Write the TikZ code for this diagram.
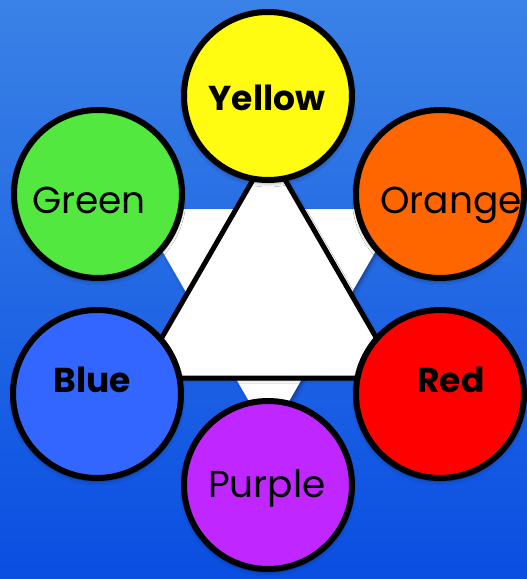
\documentclass[tikz,border=0pt]{standalone}
\usepackage{fontspec}
\setmainfont{Poppins}
\usetikzlibrary{shadows.blur}
\definecolor{bgtop}{RGB}{58,130,230}
\definecolor{bgbot}{RGB}{10,78,226}
\definecolor{cyellow}{RGB}{255,252,17}
\definecolor{cgreen}{RGB}{83,232,64}
\definecolor{corange}{RGB}{255,102,0}
\definecolor{cblue}{RGB}{51,102,255}
\definecolor{cred}{RGB}{255,0,0}
\definecolor{cpurple}{RGB}{192,38,255}
\tikzset{
  colorcircle/.style={circle, draw=black, line width=6pt, minimum size=168pt,
    inner sep=0pt, outer sep=0pt,
    blur shadow={shadow xshift=0pt, shadow yshift=-3pt, shadow blur radius=4pt, shadow opacity=45}},
  lbl/.style={anchor=base, inner sep=0pt, font=\fontsize{37.5}{40}\selectfont},
  blbl/.style={lbl, font=\fontsize{34.5}{40}\selectfont\bfseries},
  whitetri/.style={fill=white,
    blur shadow={shadow xshift=2pt, shadow yshift=-2pt, shadow blur radius=3pt, shadow opacity=35}},
}
\begin{document}
\begin{tikzpicture}[x=1pt,y=-1pt]
\shade[top color=bgtop, bottom color=bgbot] (0,0) rectangle (527,579);
\useasboundingbox (0,0) rectangle (527,579);
% inverted white triangle
\coordinate (ia) at (138,209);
\coordinate (ib) at (400,209);
\coordinate (ic) at (269,436);
\fill[whitetri] (ia) -- (ib) -- (ic) -- cycle;
% upright outlined triangle
\coordinate (ta) at (269,152);
\coordinate (tb) at (399.5,378);
\coordinate (tc) at (138.5,378);
\filldraw[whitetri, draw=black, line width=5pt, line join=round] (ta) -- (tb) -- (tc) -- cycle;
% circles
\node[colorcircle, fill=cyellow] (yellow) at (268,96) {};
\node[colorcircle, fill=cgreen] (green) at (98,194) {};
\node[colorcircle, fill=corange] (orange) at (440,194) {};
\node[colorcircle, fill=cblue] (blue) at (97,394) {};
\node[colorcircle, fill=cred] (red) at (440,394) {};
\node[colorcircle, fill=cpurple] (purple) at (268,485) {};
% labels
\node[blbl] (yellowt) at (267,110) {Yellow};
\node[lbl] (greent) at (89,213) {Green};
\node[lbl] (oranget) at (451,213) {Orange};
\node[blbl] (bluet) at (92,392) {Blue};
\node[blbl] (redt) at (451,392) {Red};
\node[lbl] (purplet) at (267,497) {Purple};
\end{tikzpicture}
\end{document}
